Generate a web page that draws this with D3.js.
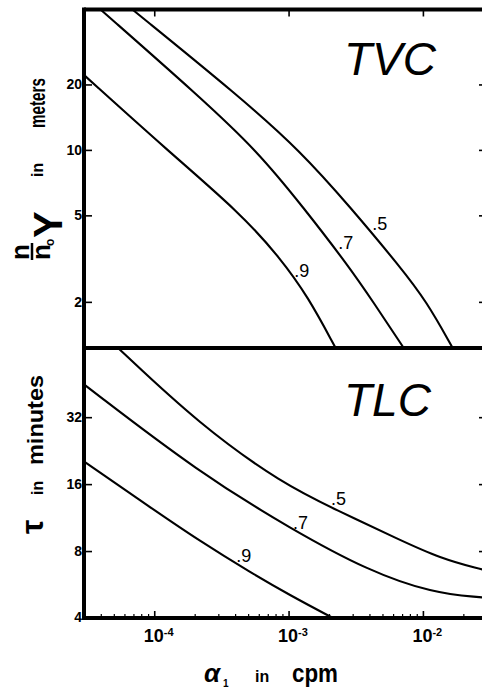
<!DOCTYPE html>
<html><head><meta charset="utf-8">
<script src="https://cdn.jsdelivr.net/npm/d3@7"></script>
<style>body{margin:0;background:#fff}svg{display:block}</style>
</head><body>
<svg id="c" width="482" height="690"></svg>
<script>
// ---- data ----
const xTicks = [1e-4, 1e-3, 1e-2];
const xTickExp = ["-4", "-3", "-2"];
const tvcTicks = [2, 5, 10, 20];
const tlcTicks = [4, 8, 16, 32];
const curveLabels = [".5", ".7", ".9"];
// TVC: (alpha1 in cpm, n/n0 Y in meters)
const tvc5 = [[6.95e-5,44],[4.36e-4,17.5],[1.22e-3,9.9],[2.87e-3,5.47],[6.76e-3,2.9],[1.07e-2,2.0],[1.65e-2,1.24]];
const tvc7 = [[4.02e-5,44],[2.19e-4,17.5],[5.83e-4,9.9],[1.28e-3,5.47],[2.82e-3,2.9],[4.26e-3,2.0],[7.12e-3,1.24]];
const tvc9 = [[3.05e-5,21.9],[1.245e-4,9.99],[4.36e-4,5.13],[8.64e-4,3.19],[1.397e-3,2.11],[2.22e-3,1.24]];
// TLC: (alpha1 in cpm, tau in minutes)
const tlc5 = [[5.38e-5,65.5],[2.19e-4,29.5],[9.1e-4,16.0],[2.30e-3,12.2],[6.76e-3,8.96],[1.34e-2,7.43],[2.67e-2,6.63],[3.0e-2,6.56]];
const tlc7 = [[3.05e-5,44.6],[2.19e-4,17.9],[1.08e-3,9.94],[3.84e-3,6.56],[1.19e-2,5.17],[2.67e-2,4.96],[3.0e-2,4.93]];
const tlc9 = [[3.05e-5,20.1],[9.3e-5,12.6],[2.19e-4,8.86],[5.17e-4,6.43],[1.026e-3,5.06],[2.14e-3,4.0]];
// label anchor points (alpha, value) for the curve labels
const tvcLabelPos = [[4.19e-3,4.29],[2.34e-3,3.5],[1.1e-3,2.6]];
const tlcLabelPos = [[2.07e-3,12.9],[1.08e-3,10.1],[4.07e-4,7.13]];

// ---- layout ----
const L = 84, R = 487, T = 9.5, MID = 348, B = 618;
const FONT = "'Liberation Sans', Arial, Helvetica, sans-serif";
const svg = d3.select("#c");

const x = d3.scaleLog().domain([3e-5, 3e-2]).range([L, R]);
const yTop = d3.scaleLog().domain([1.24, 44]).range([347, 10]);
const yBot = d3.scaleLog().domain([4, 65.5]).range([B, MID]);

const defs = svg.append("defs");
defs.append("clipPath").attr("id","cTop").append("rect").attr("x",L).attr("y",T).attr("width",R-L).attr("height",MID-T);
defs.append("clipPath").attr("id","cBot").append("rect").attr("x",L).attr("y",MID).attr("width",R-L).attr("height",B-MID);

function drawCurves(series, yS, clip) {
  const line = d3.line().x(d => x(d[0])).y(d => yS(d[1])).curve(d3.curveBasis);
  const g = svg.append("g").attr("clip-path", `url(#${clip})`);
  series.forEach(s => g.append("path").attr("d", line(s)).attr("fill","none").attr("stroke","#000").attr("stroke-width",2.1));
}
drawCurves([tvc5, tvc7, tvc9], yTop, "cTop");
drawCurves([tlc5, tlc7, tlc9], yBot, "cBot");

// curve labels
function drawLabels(pos, yS) {
  pos.forEach((p, i) => svg.append("text").attr("x", x(p[0])).attr("y", yS(p[1]))
    .attr("font-family", FONT).attr("font-size", 18).attr("fill","#000").text(curveLabels[i]));
}
drawLabels(tvcLabelPos, yTop);
drawLabels(tlcLabelPos, yBot);

// y axes (left labels + inward ticks on both sides)
function yAxis(ticks, yS) {
  const gl = svg.append("g").attr("transform", `translate(${L},0)`)
    .call(d3.axisRight(yS).tickValues(ticks).tickSize(8).tickFormat(""));
  gl.select(".domain").remove();
  gl.selectAll("line").attr("stroke","#000").attr("stroke-width",1.6);
  const gr = svg.append("g").attr("transform", `translate(${R},0)`)
    .call(d3.axisLeft(yS).tickValues(ticks).tickSize(8).tickFormat(""));
  gr.select(".domain").remove();
  gr.selectAll("line").attr("stroke","#000").attr("stroke-width",1.6);
  ticks.forEach(t => svg.append("text").attr("x", L - 2).attr("y", Math.min(yS(t) + 5, 622))
    .attr("text-anchor","end").attr("font-family", FONT).attr("font-weight","bold")
    .attr("font-size", 14).attr("fill","#000").text(t));
}
yAxis(tvcTicks, yTop);
yAxis(tlcTicks, yBot);

// x axis: major ticks inward at bottom and top, minor ticks at bottom
const gx = svg.append("g").attr("transform", `translate(0,${B})`)
  .call(d3.axisTop(x).tickValues(xTicks).tickSize(7).tickFormat(""));
gx.select(".domain").remove();
gx.selectAll("line").attr("stroke","#000").attr("stroke-width",1.6);
const minor = [];
[1e-5,1e-4,1e-3,1e-2].forEach(d => [2,3,4,5,6,7,8,9].forEach(m => { const v = d*m; if (v > 3e-5 && v < 3e-2) minor.push(v); }));
const gm = svg.append("g").attr("transform", `translate(0,${B})`)
  .call(d3.axisTop(x).tickValues(minor).tickSize(4).tickFormat(""));
gm.select(".domain").remove();
gm.selectAll("line").attr("stroke","#000").attr("stroke-width",1.2);
const gxt = svg.append("g").attr("transform", `translate(0,${T})`)
  .call(d3.axisBottom(x).tickValues(xTicks).tickSize(7).tickFormat(""));
gxt.select(".domain").remove();
gxt.selectAll("line").attr("stroke","#000").attr("stroke-width",1.6);

xTicks.forEach((t, i) => {
  const tx = svg.append("text").attr("x", x(t) - 10.5).attr("y", 642)
    .attr("font-family", FONT).attr("font-weight","bold").attr("font-size", 18).attr("fill","#000");
  tx.append("tspan").text("10");
  tx.append("tspan").attr("dy", -6).attr("font-size", 11).text(xTickExp[i]);
});

// frame
const frame = svg.append("g").attr("stroke","#000").attr("fill","none");
frame.append("line").attr("x1",L).attr("x2",L).attr("y1",T-2).attr("y2",B+2).attr("stroke-width",4);
frame.append("line").attr("x1",L).attr("x2",R).attr("y1",T).attr("y2",T).attr("stroke-width",4);
frame.append("line").attr("x1",L).attr("x2",R).attr("y1",MID).attr("y2",MID).attr("stroke-width",4);
frame.append("line").attr("x1",L).attr("x2",R).attr("y1",B).attr("y2",B).attr("stroke-width",4);
frame.append("line").attr("x1",R).attr("x2",R).attr("y1",T).attr("y2",B).attr("stroke-width",4);

// panel titles
svg.append("text").attr("x", 344).attr("y", 75).attr("font-family", FONT).attr("font-style","italic")
  .attr("font-size", 46).attr("fill","#000").text("TVC");
svg.append("text").attr("x", 344).attr("y", 416).attr("font-family", FONT).attr("font-style","italic")
  .attr("font-size", 46).attr("fill","#000").text("TLC");

// x axis title
const xt = svg.append("g").attr("font-family", FONT).attr("font-weight","bold").attr("fill","#000");
xt.append("text").attr("x", 204).attr("y", 682).attr("font-size", 26).attr("font-style","italic").text("α");
xt.append("text").attr("x", 223).attr("y", 687).attr("font-size", 10).text("1");
xt.append("text").attr("x", 255).attr("y", 682).attr("font-size", 16).text("in");
xt.append("text").attr("x", 292).attr("y", 682).attr("font-size", 25).attr("textLength", 46).attr("lengthAdjust","spacingAndGlyphs").text("cpm");

// y axis titles (rotated)
const yt1 = svg.append("g").attr("transform","translate(45,0) rotate(-90)")
  .attr("font-family", FONT).attr("font-weight","bold").attr("fill","#000");
yt1.append("text").attr("x", -128).attr("y", 0).attr("font-size", 22).attr("textLength", 50).attr("lengthAdjust","spacingAndGlyphs").text("meters");
yt1.append("text").attr("x", -177).attr("y", -2).attr("font-size", 16).text("in");
yt1.append("text").attr("x", -238).attr("y", 17).attr("font-size", 40).text("Y");
yt1.append("text").attr("x", -260).attr("y", -16).attr("font-size", 26).text("n");
yt1.append("line").attr("x1", -260).attr("x2", -243).attr("y1", -13).attr("y2", -13).attr("stroke","#000").attr("stroke-width",2.5);
yt1.append("text").attr("x", -260).attr("y", 5).attr("font-size", 26).text("n");
yt1.append("text").attr("x", -246).attr("y", 9).attr("font-size", 12).text("o");

const yt2 = svg.append("g").attr("transform","translate(43,0) rotate(-90)")
  .attr("font-family", FONT).attr("font-weight","bold").attr("fill","#000");
yt2.append("text").attr("x", -465).attr("y", 0).attr("font-size", 22).attr("textLength", 90).attr("lengthAdjust","spacingAndGlyphs").text("minutes");
yt2.append("text").attr("x", -495).attr("y", 0).attr("font-size", 16).text("in");
yt2.append("text").attr("x", -534).attr("y", 0).attr("font-size", 32).text("τ");
</script>
</body></html>
